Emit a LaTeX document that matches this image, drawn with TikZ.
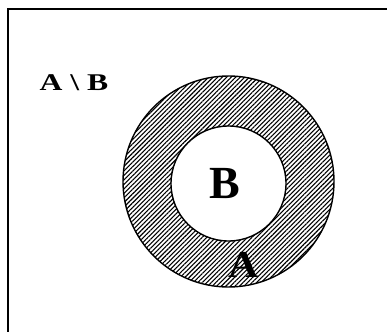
\documentclass[tikz,border=0pt]{standalone}
\usepackage{fontspec}
\setmainfont{Liberation Serif}
\usetikzlibrary{patterns.meta}
\definecolor{setblack}{HTML}{000000}

\begin{document}
\begin{tikzpicture}[x=1pt,y=-1pt]
  \clip (0,0) rectangle (387,331);
  % frame of the universe, cut off on the right and bottom
  \draw[setblack,line width=2pt] (8,9.5) rectangle (400,345);
  % hatched ring A \ B
  \pattern[even odd rule,pattern={Lines[angle=45,distance=3.2pt,line width=1.1pt]}]
    (228.5,181.5) circle[radius=105.5] (228.5,183.5) circle[radius=57.5];
  \draw[setblack,line width=1.4pt] (228.5,181.5) circle[radius=105.5];
  \draw[setblack,line width=1.4pt] (228.5,183.5) circle[radius=57.5];
  \node[anchor=base,font=\bfseries\fontsize{24}{24}\selectfont] (diff) at (74,91) {\scalebox{1.32}[1]{A \textbackslash{} B}};
  \node[anchor=base,font=\bfseries\fontsize{46}{46}\selectfont] (setB) at (225,198) {B};
  \node[anchor=base,font=\bfseries\fontsize{38}{38}\selectfont] (setA) at (244,277) {\scalebox{1.1}[1]{A}};
\end{tikzpicture}
\end{document}
